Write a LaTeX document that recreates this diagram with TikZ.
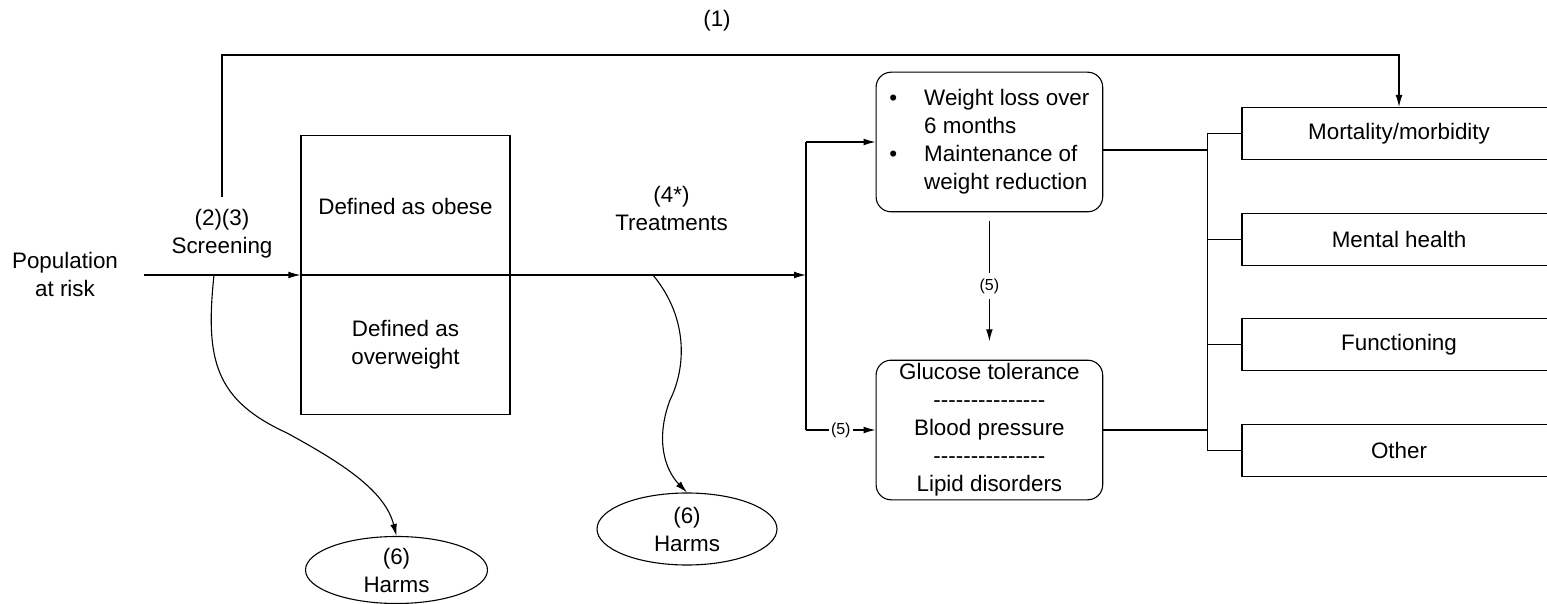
\documentclass[tikz,border=0pt]{standalone}
\usepackage{fontspec}
\setmainfont{Liberation Sans}
\usetikzlibrary{arrows.meta,positioning,shapes.geometric}
\newcommand{\dashrow}{-{}-{}-{}-{}-{}-{}-{}-{}-{}-{}-{}-{}-{}-{}-}
\tikzset{
  >={Latex[length=6pt,width=3.4pt]},
  txt/.style={align=center, inner sep=0pt, font=\fontsize{11.2}{14}\selectfont},
  smalltxt/.style={fill=white, inner xsep=1pt, inner ysep=3pt, font=\fontsize{8}{10}\selectfont},
  grpbox/.style={draw, minimum width=104.5pt, minimum height=139.3pt},
  outbox/.style={draw, rounded corners=7.5pt, align=center, inner sep=0pt, minimum width=113.3pt, minimum height=69.8pt, font=\fontsize{11.2}{14}\selectfont},
  resbox/.style={draw, minimum width=157pt, minimum height=26pt, font=\fontsize{11.2}{14}\selectfont},
  harm/.style={ellipse, draw, align=center, inner sep=0pt, font=\fontsize{11.2}{14}\selectfont},
}
\begin{document}
\begin{tikzpicture}[x=0.5pt, y=-0.5pt, line width=0.55pt, node distance=26.25pt]
  \useasboundingbox (0,0) rectangle (1547,604);

  \node[txt] (pop) at (65,274.7) {Population\\at risk};
  \node[txt] (scr) at (222,234.2) {(2)(3)\\Screening};
  \node[grpbox] (grp) at (405.5,275) {};
  \node[txt] (ob) at (405.5,206.7) {Defined as obese};
  \node[txt] (ov) at (405.5,344.5) {Defined as\\overweight};
  \node[txt] (treat) at (671.5,208.3) {(4*)\\Treatments};
  \node[txt] (lbl1) at (717,21) {(1)};

  \node[outbox] (wt) at (989.4,142) {%
    \begin{tabular}{@{}l@{\hspace{13.5pt}}l@{}}
      \textbullet & Weight loss over\\
                  & 6 months\\
      \textbullet & Maintenance of\\
                  & weight reduction
    \end{tabular}};
  \node[outbox] (gl) at (989.4,430) {Glucose tolerance\\\dashrow\\Blood pressure\\\dashrow\\Lipid disorders};

  \node[resbox] (mort) at (1399,133.5) {Mortality/morbidity};
  \node[resbox, below=of mort] (ment) {Mental health};
  \node[resbox, below=of ment] (func) {Functioning};
  \node[resbox, below=of func] (oth) {Other};

  \node[harm, minimum width=91pt, minimum height=33.5pt] (harm1) at (396.5,570) {(6)\\Harms};
  \node[harm, minimum width=90pt, minimum height=36pt] (harm2) at (687,529) {(6)\\Harms};

  \coordinate (s0) at (144,275);
  \coordinate (br) at (806,275);
  \coordinate (up0) at (222,197);
  \coordinate (tl) at (222,55);
  \coordinate (c1) at (214,275);
  \coordinate (c2) at (653,275);
  \coordinate (bx) at (1207.3,0);
  \coordinate (wo) at ([yshift=-4pt]wt.east);

  \draw[->] (s0) -- (grp.west);
  \draw[->] (grp.west) -- (br);
  \draw (br |- wt.west) -- (br |- gl.west);
  \draw[->] (br |- wt.west) -- (wt.west);
  \draw[->] (br |- gl.west) -- node[smalltxt] {(5)} (gl.west);
  \draw[->, shorten <=4.2pt, shorten >=9.2pt] (wt.south) -- node[smalltxt] {(5)} (gl.north);

  \draw[->] (up0) -- (tl) -| (mort.north);

  \draw (wo) -- (wo -| bx);
  \draw (gl.east) -- (gl.east -| bx);
  \draw (bx |- mort.west) -- (bx |- oth.west);
  \foreach \n in {mort,ment,func,oth}
    \draw (bx |- \n.west) -- (\n.west);

  \draw[->] (c1) .. controls (205,360) and (215,400) .. (287,433)
    .. controls (340,462) and (385,490) .. (harm1.north);
  \draw[->] (c2) .. controls (690,320) and (685,370) .. (670,400)
    .. controls (655,440) and (665,470) .. (harm2.north);
\end{tikzpicture}
\end{document}
